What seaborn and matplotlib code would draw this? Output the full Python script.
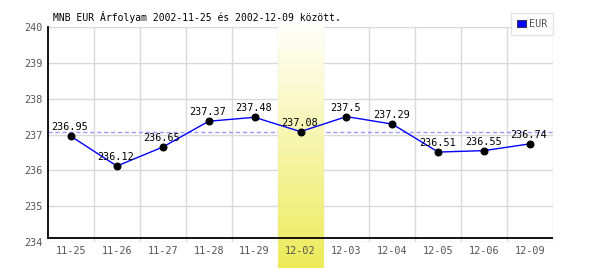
import numpy as np
import pandas as pd
import matplotlib
matplotlib.use("Agg")
import matplotlib.pyplot as plt
from matplotlib.patches import Patch
import seaborn as sns

dates = ["11-25", "11-26", "11-27", "11-28", "11-29", "12-02",
         "12-03", "12-04", "12-05", "12-06", "12-09"]
rates = [236.95, 236.12, 236.65, 237.37, 237.48, 237.08,
         237.5, 237.29, 236.51, 236.55, 236.74]
y_ticks = [234, 235, 236, 237, 238, 239, 240]
highlight_date = "12-02"
ref_value = 237.08
title = "MNB EUR Árfolyam 2002-11-25 és 2002-12-09 között."
series_name = "EUR"

sns.set_style("white")
plt.rcParams["font.family"] = ["DejaVu Sans Mono", "DejaVu Sans"]

W, H = 600, 270
fig = plt.figure(figsize=(W / 100, H / 100), dpi=100)
ax = fig.add_axes([48 / W, 1 - 242 / H, (553 - 48) / W, (242 - 27) / H])

df = pd.DataFrame({"date": dates, "rate": rates, "pos": np.arange(len(dates))})

ymin, ymax = 234, 240
ax.set_xlim(-0.5, len(dates) - 0.5)
ax.set_ylim(ymin, ymax)

# grid
for yv in y_ticks:
    ax.axhline(yv, color="#d9d9d9", lw=1, zorder=0.5)
for xv in np.arange(len(dates) + 1) - 0.5:
    if xv > -0.5:
        ax.axvline(xv, color="#d9d9d9", lw=1, zorder=0.5)

# reference dashed line
ax.axhline(ref_value, color="#9999ff", lw=1, ls=(0, (3, 2)), zorder=1)

# highlight band with gradient
hi = dates.index(highlight_date)
per_px = (ymax - ymin) / (242 - 27)
band_bottom = ymin - (268 - 242) * per_px
band_top = ymax + 2 * per_px
grad = np.linspace(0, 1, 256).reshape(-1, 1)
top_c = np.array([1.0, 1.0, 0.98])
bot_c = np.array([0.93, 0.92, 0.35])
img = top_c[None, None, :] * (1 - grad[:, :, None]) + bot_c[None, None, :] * grad[:, :, None]
ax.imshow(img, extent=[hi - 0.5, hi + 0.5, band_bottom, band_top], origin="upper",
          aspect="auto", zorder=2, clip_on=False)

# x axis black line
axis_y = ymin + 4 * per_px
ax.axhline(axis_y, color="black", lw=1.3, zorder=3)

sns.lineplot(data=df, x="pos", y="rate", ax=ax, color="#0000ff", lw=1,
             marker="o", markersize=5, markerfacecolor="black",
             markeredgecolor="black", zorder=4, legend=False)

for x, v in zip(df["pos"], rates):
    ax.annotate(f"{v:g}", (x, v), xytext=(-1, 4), textcoords="offset pixels",
                ha="center", va="bottom", fontsize=7.3, color="black", zorder=5)

ax.set_xlim(-0.5, len(dates) - 0.5)
ax.set_ylim(ymin, ymax)

ax.set_xticks(np.arange(len(dates)))
ax.set_xticklabels(dates)
ax.set_yticks(y_ticks)
ax.set_yticklabels([str(t) for t in y_ticks])
ax.tick_params(axis="both", length=0, labelsize=7.3, labelcolor="#555555")
ax.tick_params(axis="x", pad=3)
ax.tick_params(axis="y", pad=4)
ax.xaxis.set_zorder(6)
ax.yaxis.set_zorder(6)
ax.set_xlabel("")
ax.set_ylabel("")

for s in ["top", "right", "bottom"]:
    ax.spines[s].set_visible(False)
ax.spines["left"].set_color("black")
ax.spines["left"].set_linewidth(1.3)
ax.spines["left"].set_bounds(axis_y, ymax)
ax.spines["left"].set_zorder(3)

fig.text(53 / W, 1 - 17 / H, title, fontsize=7, color="black", ha="left", va="center")

handle = Patch(facecolor="#0000ff", edgecolor="#333366", lw=0.8)
leg = fig.legend([handle], [series_name], loc="upper right",
                 bbox_to_anchor=(553 / W, 1 - 13 / H), fontsize=7.3,
                 frameon=True, fancybox=False, borderpad=0.6,
                 handlelength=0.8, handleheight=0.8, handletextpad=0.3,
                 borderaxespad=0)
leg.get_frame().set_edgecolor("#dddddd")
leg.get_frame().set_linewidth(1)
for t in leg.get_texts():
    t.set_color("#555555")

fig.savefig("out.png", dpi=100)
